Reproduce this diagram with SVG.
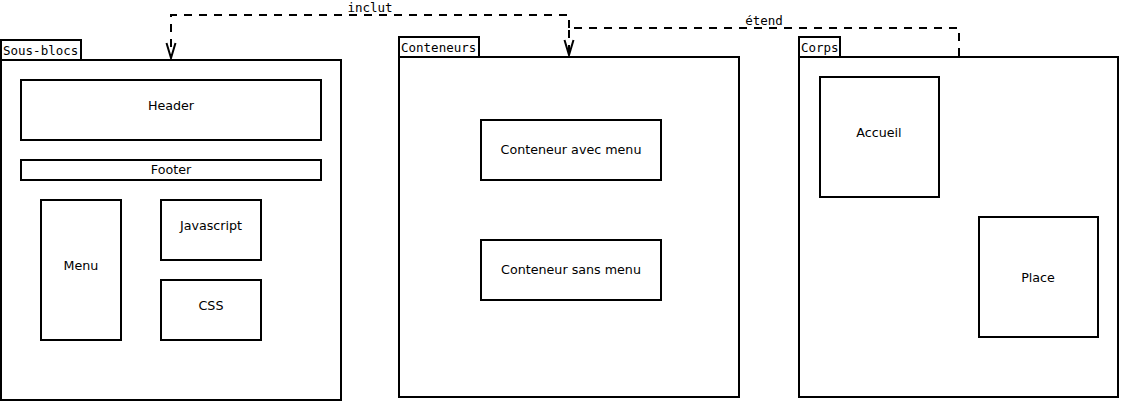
<svg xmlns="http://www.w3.org/2000/svg" width="1121" height="402" viewBox="0 0 1121 402">
<style>
rect{fill:#fff;stroke:#000;stroke-width:2}
.t{font-family:"DejaVu Sans",sans-serif;font-size:12.7px;text-anchor:middle;fill:#000}
.m{font-family:"DejaVu Sans Mono",monospace;font-size:12.5px;fill:#000}
.c{fill:none;stroke:#000;stroke-width:2;stroke-dasharray:8,7}
</style>
<defs>
<marker id="v" markerWidth="18" markerHeight="12" refX="16" refY="6" orient="auto" markerUnits="userSpaceOnUse" viewBox="0 0 18 12">
<path d="M1,1.5 L16,6 L1,10.5" fill="none" stroke="#000" stroke-width="2"/>
</marker>
</defs>
<g id="sous-blocs">
<rect x="1" y="40" width="80" height="20"/>
<text class="m" x="3" y="55">Sous-blocs</text>
<rect x="1" y="60" width="340" height="340"/>
</g>
<g id="header"><rect x="21" y="80" width="300" height="60"/><text class="t" x="171" y="110">Header</text></g>
<g id="footer"><rect x="21" y="160" width="300" height="20"/><text class="t" x="171" y="174">Footer</text></g>
<g id="menu"><rect x="41" y="200" width="80" height="140"/><text class="t" x="81" y="270">Menu</text></g>
<g id="javascript"><rect x="161" y="200" width="100" height="60"/><text class="t" x="211" y="230">Javascript</text></g>
<g id="css"><rect x="161" y="280" width="100" height="60"/><text class="t" x="211" y="310">CSS</text></g>
<g id="conteneurs">
<rect x="399" y="37" width="80" height="20"/>
<text class="m" x="401" y="52">Conteneurs</text>
<rect x="399" y="57" width="340" height="340"/>
</g>
<g id="avec-menu"><rect x="481" y="120" width="180" height="60"/><text class="t" x="571" y="154">Conteneur avec menu</text></g>
<g id="sans-menu"><rect x="481" y="240" width="180" height="60"/><text class="t" x="571" y="274">Conteneur sans menu</text></g>
<g id="corps">
<rect x="799" y="37" width="41" height="20"/>
<text class="m" x="801" y="52">Corps</text>
<rect x="799" y="57" width="319" height="340"/>
</g>
<g id="accueil"><rect x="820" y="77" width="119" height="120"/><text class="t" x="879" y="137">Accueil</text></g>
<g id="place"><rect x="979" y="217" width="119" height="120"/><text class="t" x="1038" y="282">Place</text></g>
<g id="connectors">
<path class="c" d="M569,28 L569,15 L171,15 L171,58" marker-end="url(#v)"/>
<path class="c" d="M959,56 L959,28 L569,28 L569,55" marker-end="url(#v)"/>
<text class="m" x="370" y="12" text-anchor="middle">inclut</text>
<text class="m" x="764" y="25" text-anchor="middle">étend</text>
</g>
</svg>
